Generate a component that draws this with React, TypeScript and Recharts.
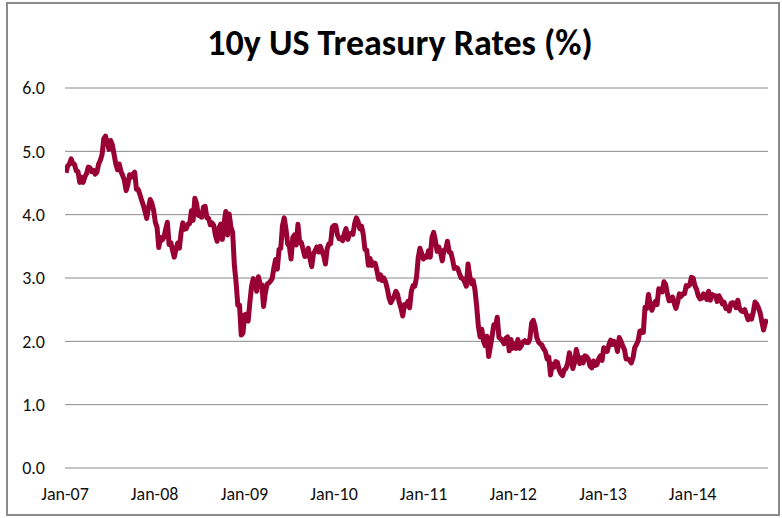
import React from "react";
import { LineChart, Line, XAxis, YAxis, CartesianGrid } from "recharts";

// Weekly (Friday) 10y US Treasury yields, %
const yields2007 = [4.66, 4.77, 4.80, 4.88, 4.81, 4.79, 4.69, 4.68, 4.51, 4.59, 4.51, 4.60, 4.65, 4.75, 4.74, 4.68, 4.70, 4.64, 4.67, 4.80, 4.86, 4.95, 5.20, 5.24, 5.14, 5.03, 5.17, 5.10, 4.95, 4.80, 4.71, 4.80, 4.68, 4.62, 4.54, 4.38, 4.47, 4.63, 4.59, 4.64, 4.67, 4.40, 4.40, 4.32, 4.23, 4.15, 4.05, 3.94, 4.11, 4.24, 4.18, 4.07];
const yields2008 = [3.88, 3.80, 3.48, 3.64, 3.60, 3.64, 3.77, 3.88, 3.53, 3.56, 3.44, 3.33, 3.45, 3.55, 3.47, 3.72, 3.87, 3.77, 3.78, 3.85, 3.86, 4.06, 3.91, 4.26, 4.18, 3.99, 3.98, 3.96, 4.12, 4.13, 3.95, 3.94, 3.84, 3.87, 3.83, 3.67, 3.58, 3.79, 3.85, 3.61, 3.87, 4.05, 3.68, 4.01, 3.80, 3.72, 3.20, 2.93, 2.57, 2.57, 2.10, 2.13];
const yields2009 = [2.42, 2.43, 2.32, 2.61, 2.87, 2.99, 2.89, 2.79, 3.02, 2.90, 2.89, 2.55, 2.76, 2.90, 2.92, 2.95, 2.99, 3.16, 3.29, 3.14, 3.45, 3.47, 3.83, 3.95, 3.78, 3.54, 3.50, 3.30, 3.64, 3.68, 3.52, 3.85, 3.56, 3.56, 3.45, 3.34, 3.35, 3.47, 3.31, 3.18, 3.38, 3.43, 3.49, 3.41, 3.50, 3.42, 3.35, 3.22, 3.46, 3.54, 3.54, 3.80];
const yields2010 = [3.83, 3.83, 3.68, 3.62, 3.63, 3.59, 3.70, 3.78, 3.61, 3.69, 3.71, 3.69, 3.86, 3.95, 3.89, 3.78, 3.82, 3.69, 3.45, 3.44, 3.20, 3.31, 3.20, 3.24, 3.23, 3.11, 2.98, 3.05, 2.96, 3.00, 2.94, 2.83, 2.69, 2.61, 2.66, 2.71, 2.79, 2.74, 2.61, 2.52, 2.40, 2.58, 2.56, 2.63, 2.53, 2.79, 2.88, 2.87, 3.01, 3.32, 3.47, 3.39, 3.30];
const yields2011 = [3.34, 3.33, 3.43, 3.33, 3.64, 3.72, 3.59, 3.42, 3.49, 3.40, 3.27, 3.44, 3.45, 3.58, 3.41, 3.40, 3.29, 3.15, 3.17, 3.15, 3.07, 3.00, 2.99, 2.94, 2.87, 3.22, 3.03, 2.91, 2.96, 2.82, 2.56, 2.24, 2.07, 2.19, 2.00, 1.93, 2.08, 1.76, 1.92, 2.08, 2.26, 2.23, 2.38, 2.06, 2.04, 2.01, 1.96, 2.05, 2.07, 1.85, 2.03, 1.89];
const yields2012 = [1.96, 1.89, 2.03, 1.89, 1.93, 1.99, 2.01, 1.98, 1.98, 2.04, 2.29, 2.33, 2.23, 2.06, 1.99, 1.96, 1.94, 1.88, 1.84, 1.72, 1.75, 1.47, 1.64, 1.59, 1.68, 1.67, 1.55, 1.49, 1.46, 1.55, 1.57, 1.66, 1.82, 1.69, 1.57, 1.67, 1.87, 1.75, 1.65, 1.74, 1.66, 1.77, 1.76, 1.72, 1.61, 1.58, 1.69, 1.62, 1.63, 1.72, 1.77, 1.70];
const yields2013 = [1.90, 1.87, 1.84, 1.95, 2.02, 1.95, 2.00, 1.96, 1.84, 2.06, 2.00, 1.93, 1.87, 1.72, 1.72, 1.70, 1.66, 1.74, 1.90, 1.95, 2.01, 2.16, 2.17, 2.14, 2.54, 2.52, 2.74, 2.59, 2.49, 2.57, 2.63, 2.58, 2.83, 2.82, 2.78, 2.94, 2.90, 2.75, 2.64, 2.65, 2.70, 2.60, 2.52, 2.62, 2.75, 2.71, 2.75, 2.75, 2.88, 2.87, 2.89, 3.01];
const yields2014 = [3.00, 2.88, 2.82, 2.72, 2.67, 2.68, 2.75, 2.73, 2.66, 2.79, 2.65, 2.74, 2.72, 2.72, 2.63, 2.72, 2.67, 2.59, 2.62, 2.52, 2.54, 2.48, 2.60, 2.61, 2.60, 2.53, 2.65, 2.52, 2.48, 2.47, 2.50, 2.42, 2.34, 2.40, 2.35, 2.46, 2.62, 2.59, 2.53, 2.45, 2.31, 2.18, 2.29, 2.35];

const yTicks = [0, 1, 2, 3, 4, 5, 6];
const xTickYears = [2007, 2008, 2009, 2010, 2011, 2012, 2013, 2014];
const xTickLabels = ["Jan-07", "Jan-08", "Jan-09", "Jan-10", "Jan-11", "Jan-12", "Jan-13", "Jan-14"];
const title = "10y US Treasury Rates (%)";

const DAY = 86400000;
const firstFriday = Date.UTC(2007, 0, 5);
const allYields = [
  ...yields2007, ...yields2008, ...yields2009, ...yields2010,
  ...yields2011, ...yields2012, ...yields2013, ...yields2014,
];
const data = allYields.map((v, i) => ({ t: firstFriday + i * 7 * DAY, rate: v }));
const xTicks = xTickYears.map((y) => Date.UTC(y, 0, 1));
const xDomain = [Date.UTC(2007, 0, 1), Date.UTC(2014, 10, 4)];

const FONT = "Carlito, Lato, 'Open Sans', sans-serif";

const formatX = (v: number) => {
  const idx = xTicks.indexOf(v);
  return idx >= 0 ? xTickLabels[idx] : "";
};

export default function App() {
  return (
    <div
      style={{
        position: "absolute",
        left: 6,
        top: 2,
        width: 774,
        height: 514,
        border: "2px solid #8a8a8a",
        boxSizing: "border-box",
        background: "#fff",
        fontFamily: FONT,
      }}
    >
      <div
        style={{
          position: "absolute",
          left: 0,
          top: 21,
          width: 784,
          textAlign: "center",
          fontSize: 36,
          fontWeight: 700,
          lineHeight: 1,
          color: "#000",
          whiteSpace: "nowrap",
        }}
      >
        {title}
      </div>
      <LineChart
        width={770}
        height={510}
        data={data}
        margin={{ top: 84, right: 10, bottom: 0, left: 0 }}
      >
        <CartesianGrid vertical={false} stroke="#8a8a8a" strokeWidth={1} />
        <XAxis
          dataKey="t"
          type="number"
          scale="time"
          domain={xDomain}
          ticks={xTicks}
          interval={0}
          tickFormatter={formatX}
          axisLine={false}
          tickLine={false}
          tickSize={0}
          tickMargin={19}
          height={46}
          allowDataOverflow
          tick={{ fill: "#111", fontSize: 18, fontFamily: FONT }}
        />
        <YAxis
          domain={[0, 6]}
          ticks={yTicks}
          interval={0}
          tickFormatter={(v: number) => v.toFixed(1)}
          axisLine={false}
          tickLine={false}
          tickSize={0}
          tickMargin={20}
          width={57}
          tick={{ fill: "#111", fontSize: 18, fontFamily: FONT }}
        />
        <Line
          type="linear"
          dataKey="rate"
          stroke="#990033"
          strokeWidth={5}
          strokeLinejoin="round"
          dot={false}
          activeDot={false}
          isAnimationActive={false}
        />
      </LineChart>
    </div>
  );
}
